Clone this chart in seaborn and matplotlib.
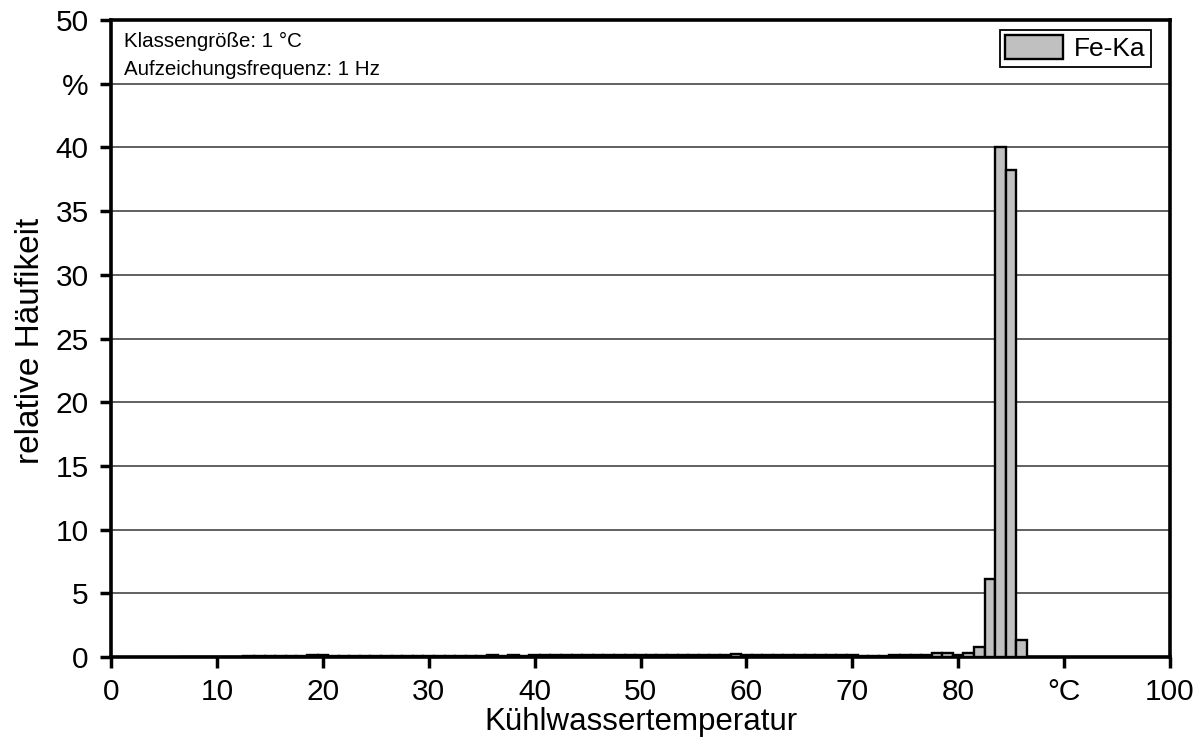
import numpy as np
import pandas as pd
import matplotlib
matplotlib.use("Agg")
import matplotlib.pyplot as plt
from matplotlib.patches import Patch
import seaborn as sns

# class centres (°C) and relative frequency (%)
temps = list(range(7, 87))
freq = [0.02, 0.02, 0.02, 0.02, 0.02, 0.02,            # 7-12
        0.06, 0.06, 0.06, 0.07, 0.07, 0.08,            # 13-18
        0.12, 0.12, 0.06, 0.10, 0.09, 0.09, 0.09,      # 19-25
        0.09, 0.09, 0.09, 0.09, 0.09, 0.09, 0.09,      # 26-32
        0.09, 0.09, 0.09, 0.15, 0.09, 0.15, 0.09,      # 33-39
        0.12, 0.12, 0.12, 0.12, 0.12, 0.12, 0.17,      # 40-46
        0.12, 0.17, 0.15, 0.12, 0.17, 0.12, 0.12,      # 47-53
        0.12, 0.12, 0.12, 0.12, 0.15, 0.25, 0.12,      # 54-60
        0.12, 0.12, 0.12, 0.12, 0.12, 0.12, 0.12,      # 61-67
        0.12, 0.15, 0.15, 0.05, 0.05, 0.05, 0.12,      # 68-74
        0.12, 0.12, 0.15, 0.34, 0.34, 0.13, 0.30,      # 75-81
        0.75, 6.1, 40.0, 38.2, 1.3]                    # 82-86

x_ticks = list(range(0, 101, 10))
x_labels = ["0", "10", "20", "30", "40", "50", "60", "70", "80", "°C", "100"]
y_ticks = list(range(0, 51, 5))
y_labels = ["0", "5", "10", "15", "20", "25", "30", "35", "40", "%", "50"]

df = pd.DataFrame({"temp": temps, "freq": freq})

sns.set_style("white")
plt.rcParams["font.family"] = ["Liberation Sans", "DejaVu Sans"]
plt.rcParams["text.color"] = "black"
plt.rcParams["axes.labelcolor"] = "black"
plt.rcParams["xtick.color"] = "black"
plt.rcParams["ytick.color"] = "black"

fig = plt.figure(figsize=(12.04, 7.46), dpi=100)
ax = fig.add_axes([111 / 1204, 1 - 657 / 746, (1170 - 111) / 1204, (657 - 20) / 746])

sns.histplot(data=df, x="temp", weights="freq", discrete=True, ax=ax,
             color="#c0c0c0", edgecolor="black", linewidth=1.7, alpha=1, zorder=3)

ax.set_xlim(0, 100)
ax.set_ylim(0, 50)
ax.set_xticks(x_ticks)
ax.set_xticklabels(x_labels)
ax.set_yticks(y_ticks)
ax.set_yticklabels(y_labels)
ax.tick_params(axis="both", direction="out", length=8, width=2.5, labelsize=21.5,
               left=True, bottom=True)
ax.tick_params(axis="x", pad=7)
ax.tick_params(axis="y", pad=8)
ax.yaxis.grid(True, color="#454545", linewidth=1.2, zorder=0)
ax.set_axisbelow(True)
for side in ["left", "bottom", "top", "right"]:
    ax.spines[side].set_visible(True)
    ax.spines[side].set_color("black")
    ax.spines[side].set_linewidth(2.6)

ax.set_xlabel("Kühlwassertemperatur", fontsize=22.5)
ax.set_ylabel("relative Häufikeit", fontsize=24)
ax.xaxis.set_label_coords(0.5, -0.078)
ax.yaxis.set_label_coords(-0.061, 0.497)

ax.text(0.0123, 0.957, "Klassengröße: 1 °C", transform=ax.transAxes,
        fontsize=14.8, va="baseline", ha="left")
ax.text(0.0123, 0.9137, "Aufzeichungsfrequenz: 1 Hz", transform=ax.transAxes,
        fontsize=14.8, va="baseline", ha="left")

leg = ax.legend(handles=[Patch(facecolor="#c0c0c0", edgecolor="black", linewidth=1.7,
                               label="Fe-Ka")],
                loc="upper right", bbox_to_anchor=(0.982, 0.984), borderaxespad=0,
                fontsize=19, fancybox=False, framealpha=1,
                edgecolor="black", handlelength=2.2, handleheight=1.0,
                borderpad=0.2, handletextpad=0.4)
leg.get_frame().set_linewidth(1.3)

fig.savefig("out.png", dpi=100)
